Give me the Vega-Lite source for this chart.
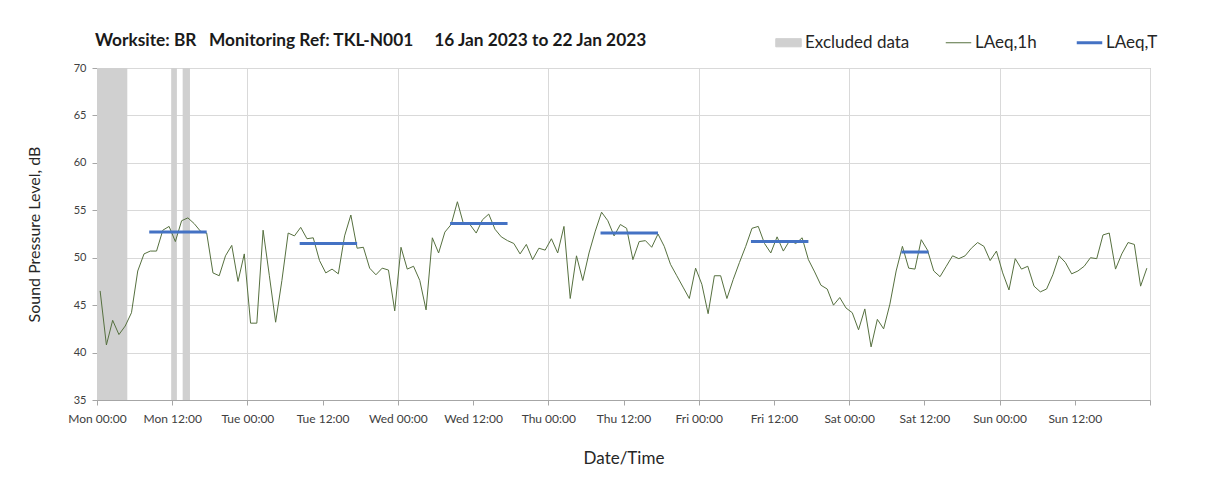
{
  "$schema": "https://vega.github.io/schema/vega-lite/v6.json",
  "width": 1053,
  "height": 332,
  "autosize": {"type": "none"},
  "padding": {"left": 97, "top": 68, "right": 58, "bottom": 93},
  "background": "white",
  "config": {
    "font": "Lato",
    "view": {"stroke": "#a6a6a6", "strokeWidth": 1}
  },
  "title": {
    "text": "Worksite: BR\u00a0\u00a0\u00a0Monitoring Ref: TKL-N001\u00a0\u00a0\u00a0\u00a0\u00a016 Jan 2023 to 22 Jan 2023",
    "anchor": "start",
    "frame": "group",
    "fontSize": 17.3,
    "fontWeight": "bold",
    "color": "#1a1a1a",
    "offset": -15,
    "dx": -2
  },
  "datasets": {
    "excluded": [
      {"start": "2023-01-16T00:00Z", "end": "2023-01-16T04:50Z"},
      {"start": "2023-01-16T11:50Z", "end": "2023-01-16T12:45Z"},
      {"start": "2023-01-16T13:40Z", "end": "2023-01-16T14:50Z"}
    ],
    "laeqT": [
      {"start": "2023-01-16T08:20Z", "end": "2023-01-16T17:30Z", "LAeq_T": 52.7},
      {"start": "2023-01-17T08:20Z", "end": "2023-01-17T17:30Z", "LAeq_T": 51.5},
      {"start": "2023-01-18T08:20Z", "end": "2023-01-18T17:30Z", "LAeq_T": 53.6},
      {"start": "2023-01-19T08:20Z", "end": "2023-01-19T17:30Z", "LAeq_T": 52.6},
      {"start": "2023-01-20T08:20Z", "end": "2023-01-20T17:30Z", "LAeq_T": 51.7},
      {"start": "2023-01-21T08:20Z", "end": "2023-01-21T12:40Z", "LAeq_T": 50.6}
    ],
    "laeq1h": [
      {"time": "2023-01-16T00:30Z", "LAeq_1h": 46.5},
      {"time": "2023-01-16T01:30Z", "LAeq_1h": 40.8},
      {"time": "2023-01-16T02:30Z", "LAeq_1h": 43.4},
      {"time": "2023-01-16T03:30Z", "LAeq_1h": 41.9},
      {"time": "2023-01-16T04:30Z", "LAeq_1h": 42.8},
      {"time": "2023-01-16T05:30Z", "LAeq_1h": 44.2},
      {"time": "2023-01-16T06:30Z", "LAeq_1h": 48.6},
      {"time": "2023-01-16T07:30Z", "LAeq_1h": 50.4},
      {"time": "2023-01-16T08:30Z", "LAeq_1h": 50.7},
      {"time": "2023-01-16T09:30Z", "LAeq_1h": 50.7},
      {"time": "2023-01-16T10:30Z", "LAeq_1h": 52.9},
      {"time": "2023-01-16T11:30Z", "LAeq_1h": 53.3},
      {"time": "2023-01-16T12:30Z", "LAeq_1h": 51.7},
      {"time": "2023-01-16T13:30Z", "LAeq_1h": 53.9},
      {"time": "2023-01-16T14:30Z", "LAeq_1h": 54.2},
      {"time": "2023-01-16T15:30Z", "LAeq_1h": 53.6},
      {"time": "2023-01-16T16:30Z", "LAeq_1h": 52.8},
      {"time": "2023-01-16T17:30Z", "LAeq_1h": 52.6},
      {"time": "2023-01-16T18:30Z", "LAeq_1h": 48.4},
      {"time": "2023-01-16T19:30Z", "LAeq_1h": 48.1},
      {"time": "2023-01-16T20:30Z", "LAeq_1h": 50.2},
      {"time": "2023-01-16T21:30Z", "LAeq_1h": 51.3},
      {"time": "2023-01-16T22:30Z", "LAeq_1h": 47.5},
      {"time": "2023-01-16T23:30Z", "LAeq_1h": 50.4},
      {"time": "2023-01-17T00:30Z", "LAeq_1h": 43.1},
      {"time": "2023-01-17T01:30Z", "LAeq_1h": 43.1},
      {"time": "2023-01-17T02:30Z", "LAeq_1h": 52.9},
      {"time": "2023-01-17T03:30Z", "LAeq_1h": 48.1},
      {"time": "2023-01-17T04:30Z", "LAeq_1h": 43.2},
      {"time": "2023-01-17T05:30Z", "LAeq_1h": 47.6},
      {"time": "2023-01-17T06:30Z", "LAeq_1h": 52.6},
      {"time": "2023-01-17T07:30Z", "LAeq_1h": 52.3},
      {"time": "2023-01-17T08:30Z", "LAeq_1h": 53.2},
      {"time": "2023-01-17T09:30Z", "LAeq_1h": 52.0},
      {"time": "2023-01-17T10:30Z", "LAeq_1h": 52.1},
      {"time": "2023-01-17T11:30Z", "LAeq_1h": 49.7},
      {"time": "2023-01-17T12:30Z", "LAeq_1h": 48.4},
      {"time": "2023-01-17T13:30Z", "LAeq_1h": 48.8},
      {"time": "2023-01-17T14:30Z", "LAeq_1h": 48.3},
      {"time": "2023-01-17T15:30Z", "LAeq_1h": 52.3},
      {"time": "2023-01-17T16:30Z", "LAeq_1h": 54.5},
      {"time": "2023-01-17T17:30Z", "LAeq_1h": 51.0},
      {"time": "2023-01-17T18:30Z", "LAeq_1h": 51.1},
      {"time": "2023-01-17T19:30Z", "LAeq_1h": 48.9},
      {"time": "2023-01-17T20:30Z", "LAeq_1h": 48.2},
      {"time": "2023-01-17T21:30Z", "LAeq_1h": 48.9},
      {"time": "2023-01-17T22:30Z", "LAeq_1h": 48.7},
      {"time": "2023-01-17T23:30Z", "LAeq_1h": 44.4},
      {"time": "2023-01-18T00:30Z", "LAeq_1h": 51.1},
      {"time": "2023-01-18T01:30Z", "LAeq_1h": 48.8},
      {"time": "2023-01-18T02:30Z", "LAeq_1h": 49.1},
      {"time": "2023-01-18T03:30Z", "LAeq_1h": 47.6},
      {"time": "2023-01-18T04:30Z", "LAeq_1h": 44.5},
      {"time": "2023-01-18T05:30Z", "LAeq_1h": 52.1},
      {"time": "2023-01-18T06:30Z", "LAeq_1h": 50.5},
      {"time": "2023-01-18T07:30Z", "LAeq_1h": 52.7},
      {"time": "2023-01-18T08:30Z", "LAeq_1h": 53.5},
      {"time": "2023-01-18T09:30Z", "LAeq_1h": 55.9},
      {"time": "2023-01-18T10:30Z", "LAeq_1h": 53.5},
      {"time": "2023-01-18T11:30Z", "LAeq_1h": 53.5},
      {"time": "2023-01-18T12:30Z", "LAeq_1h": 52.6},
      {"time": "2023-01-18T13:30Z", "LAeq_1h": 54.0},
      {"time": "2023-01-18T14:30Z", "LAeq_1h": 54.6},
      {"time": "2023-01-18T15:30Z", "LAeq_1h": 53.0},
      {"time": "2023-01-18T16:30Z", "LAeq_1h": 52.2},
      {"time": "2023-01-18T17:30Z", "LAeq_1h": 51.8},
      {"time": "2023-01-18T18:30Z", "LAeq_1h": 51.5},
      {"time": "2023-01-18T19:30Z", "LAeq_1h": 50.4},
      {"time": "2023-01-18T20:30Z", "LAeq_1h": 51.4},
      {"time": "2023-01-18T21:30Z", "LAeq_1h": 49.8},
      {"time": "2023-01-18T22:30Z", "LAeq_1h": 51.0},
      {"time": "2023-01-18T23:30Z", "LAeq_1h": 50.8},
      {"time": "2023-01-19T00:30Z", "LAeq_1h": 52.0},
      {"time": "2023-01-19T01:30Z", "LAeq_1h": 50.5},
      {"time": "2023-01-19T02:30Z", "LAeq_1h": 53.3},
      {"time": "2023-01-19T03:30Z", "LAeq_1h": 45.7},
      {"time": "2023-01-19T04:30Z", "LAeq_1h": 50.2},
      {"time": "2023-01-19T05:30Z", "LAeq_1h": 47.6},
      {"time": "2023-01-19T06:30Z", "LAeq_1h": 50.5},
      {"time": "2023-01-19T07:30Z", "LAeq_1h": 52.8},
      {"time": "2023-01-19T08:30Z", "LAeq_1h": 54.8},
      {"time": "2023-01-19T09:30Z", "LAeq_1h": 53.9},
      {"time": "2023-01-19T10:30Z", "LAeq_1h": 52.3},
      {"time": "2023-01-19T11:30Z", "LAeq_1h": 53.5},
      {"time": "2023-01-19T12:30Z", "LAeq_1h": 53.1},
      {"time": "2023-01-19T13:30Z", "LAeq_1h": 49.8},
      {"time": "2023-01-19T14:30Z", "LAeq_1h": 51.7},
      {"time": "2023-01-19T15:30Z", "LAeq_1h": 51.8},
      {"time": "2023-01-19T16:30Z", "LAeq_1h": 51.1},
      {"time": "2023-01-19T17:30Z", "LAeq_1h": 52.5},
      {"time": "2023-01-19T18:30Z", "LAeq_1h": 51.2},
      {"time": "2023-01-19T19:30Z", "LAeq_1h": 49.3},
      {"time": "2023-01-19T20:30Z", "LAeq_1h": 48.1},
      {"time": "2023-01-19T21:30Z", "LAeq_1h": 46.9},
      {"time": "2023-01-19T22:30Z", "LAeq_1h": 45.7},
      {"time": "2023-01-19T23:30Z", "LAeq_1h": 48.9},
      {"time": "2023-01-20T00:30Z", "LAeq_1h": 47.2},
      {"time": "2023-01-20T01:30Z", "LAeq_1h": 44.1},
      {"time": "2023-01-20T02:30Z", "LAeq_1h": 48.1},
      {"time": "2023-01-20T03:30Z", "LAeq_1h": 48.1},
      {"time": "2023-01-20T04:30Z", "LAeq_1h": 45.7},
      {"time": "2023-01-20T05:30Z", "LAeq_1h": 47.7},
      {"time": "2023-01-20T06:30Z", "LAeq_1h": 49.5},
      {"time": "2023-01-20T07:30Z", "LAeq_1h": 51.2},
      {"time": "2023-01-20T08:30Z", "LAeq_1h": 53.1},
      {"time": "2023-01-20T09:30Z", "LAeq_1h": 53.3},
      {"time": "2023-01-20T10:30Z", "LAeq_1h": 51.5},
      {"time": "2023-01-20T11:30Z", "LAeq_1h": 50.5},
      {"time": "2023-01-20T12:30Z", "LAeq_1h": 52.2},
      {"time": "2023-01-20T13:30Z", "LAeq_1h": 50.7},
      {"time": "2023-01-20T14:30Z", "LAeq_1h": 51.8},
      {"time": "2023-01-20T15:30Z", "LAeq_1h": 51.5},
      {"time": "2023-01-20T16:30Z", "LAeq_1h": 52.1},
      {"time": "2023-01-20T17:30Z", "LAeq_1h": 49.8},
      {"time": "2023-01-20T18:30Z", "LAeq_1h": 48.5},
      {"time": "2023-01-20T19:30Z", "LAeq_1h": 47.1},
      {"time": "2023-01-20T20:30Z", "LAeq_1h": 46.7},
      {"time": "2023-01-20T21:30Z", "LAeq_1h": 45.0},
      {"time": "2023-01-20T22:30Z", "LAeq_1h": 45.8},
      {"time": "2023-01-20T23:30Z", "LAeq_1h": 44.7},
      {"time": "2023-01-21T00:30Z", "LAeq_1h": 44.2},
      {"time": "2023-01-21T01:30Z", "LAeq_1h": 42.4},
      {"time": "2023-01-21T02:30Z", "LAeq_1h": 44.6},
      {"time": "2023-01-21T03:30Z", "LAeq_1h": 40.6},
      {"time": "2023-01-21T04:30Z", "LAeq_1h": 43.5},
      {"time": "2023-01-21T05:30Z", "LAeq_1h": 42.5},
      {"time": "2023-01-21T06:30Z", "LAeq_1h": 45.1},
      {"time": "2023-01-21T07:30Z", "LAeq_1h": 48.6},
      {"time": "2023-01-21T08:30Z", "LAeq_1h": 51.2},
      {"time": "2023-01-21T09:30Z", "LAeq_1h": 48.9},
      {"time": "2023-01-21T10:30Z", "LAeq_1h": 48.8},
      {"time": "2023-01-21T11:30Z", "LAeq_1h": 51.9},
      {"time": "2023-01-21T12:30Z", "LAeq_1h": 50.8},
      {"time": "2023-01-21T13:30Z", "LAeq_1h": 48.6},
      {"time": "2023-01-21T14:30Z", "LAeq_1h": 48.0},
      {"time": "2023-01-21T15:30Z", "LAeq_1h": 49.1},
      {"time": "2023-01-21T16:30Z", "LAeq_1h": 50.2},
      {"time": "2023-01-21T17:30Z", "LAeq_1h": 49.9},
      {"time": "2023-01-21T18:30Z", "LAeq_1h": 50.2},
      {"time": "2023-01-21T19:30Z", "LAeq_1h": 51.0},
      {"time": "2023-01-21T20:30Z", "LAeq_1h": 51.6},
      {"time": "2023-01-21T21:30Z", "LAeq_1h": 51.2},
      {"time": "2023-01-21T22:30Z", "LAeq_1h": 49.7},
      {"time": "2023-01-21T23:30Z", "LAeq_1h": 50.7},
      {"time": "2023-01-22T00:30Z", "LAeq_1h": 48.4},
      {"time": "2023-01-22T01:30Z", "LAeq_1h": 46.6},
      {"time": "2023-01-22T02:30Z", "LAeq_1h": 49.9},
      {"time": "2023-01-22T03:30Z", "LAeq_1h": 48.8},
      {"time": "2023-01-22T04:30Z", "LAeq_1h": 49.1},
      {"time": "2023-01-22T05:30Z", "LAeq_1h": 47.0},
      {"time": "2023-01-22T06:30Z", "LAeq_1h": 46.4},
      {"time": "2023-01-22T07:30Z", "LAeq_1h": 46.7},
      {"time": "2023-01-22T08:30Z", "LAeq_1h": 48.2},
      {"time": "2023-01-22T09:30Z", "LAeq_1h": 50.2},
      {"time": "2023-01-22T10:30Z", "LAeq_1h": 49.5},
      {"time": "2023-01-22T11:30Z", "LAeq_1h": 48.3},
      {"time": "2023-01-22T12:30Z", "LAeq_1h": 48.6},
      {"time": "2023-01-22T13:30Z", "LAeq_1h": 49.1},
      {"time": "2023-01-22T14:30Z", "LAeq_1h": 50.0},
      {"time": "2023-01-22T15:30Z", "LAeq_1h": 49.9},
      {"time": "2023-01-22T16:30Z", "LAeq_1h": 52.4},
      {"time": "2023-01-22T17:30Z", "LAeq_1h": 52.6},
      {"time": "2023-01-22T18:30Z", "LAeq_1h": 48.8},
      {"time": "2023-01-22T19:30Z", "LAeq_1h": 50.4},
      {"time": "2023-01-22T20:30Z", "LAeq_1h": 51.6},
      {"time": "2023-01-22T21:30Z", "LAeq_1h": 51.4},
      {"time": "2023-01-22T22:30Z", "LAeq_1h": 47.0},
      {"time": "2023-01-22T23:30Z", "LAeq_1h": 48.9}
    ]
  },
  "layer": [
    {
      "data": {"name": "excluded"},
      "mark": {"type": "rect"},
      "encoding": {
        "x": {
          "field": "start",
          "type": "temporal",
          "title": "Date/Time",
          "scale": {"type": "utc", "domain": [1673827200000, 1674432000000], "nice": false},
          "axis": {
            "values": [1673827200000, 1673870400000, 1673913600000, 1673956800000, 1674000000000, 1674043200000, 1674086400000, 1674129600000, 1674172800000, 1674216000000, 1674259200000, 1674302400000, 1674345600000, 1674388800000, 1674432000000],
            "labelExpr": "datum.value >= 1674432000000 ? '' : utcFormat(datum.value, '%a %H:%M')",
            "labelFlush": false,
            "labelOverlap": false,
            "grid": true,
            "gridColor": "#d9d9d9",
            "gridOpacity": {"condition": {"test": "utchours(datum.value) === 0", "value": 1}, "value": 0},
            "domainColor": "#a6a6a6",
            "tickColor": "#a6a6a6",
            "tickSize": 5,
            "labelPadding": 8,
            "labelFontSize": 12,
            "labelColor": "#404040",
            "titleFontSize": 17,
            "titleFontWeight": "normal",
            "titleColor": "#262626",
            "titlePadding": 26
          }
        },
        "x2": {"field": "end"},
        "y": {
          "datum": 70,
          "type": "quantitative",
          "title": "Sound Pressure Level, dB",
          "scale": {"domain": [35, 70], "nice": false, "zero": false},
          "axis": {
            "values": [35, 40, 45, 50, 55, 60, 65, 70],
            "grid": true,
            "gridColor": "#d9d9d9",
            "domainColor": "#a6a6a6",
            "tickColor": "#a6a6a6",
            "tickSize": 5,
            "labelPadding": 6,
            "labelFontSize": 11,
            "labelColor": "#404040",
            "titleFontSize": 16,
            "titleFontWeight": "normal",
            "titleColor": "#262626",
            "titlePadding": 31
          }
        },
        "y2": {"datum": 35},
        "color": {
          "datum": "Excluded data",
          "scale": {"domain": ["Excluded data", "LAeq,1h", "LAeq,T"], "range": ["#d0d0d0", "#56703f", "#4472c4"]},
          "legend": {
            "title": null,
            "orient": "none",
            "direction": "horizontal",
            "legendX": 683,
            "legendY": -34,
            "padding": 0,
            "labelFontSize": 17,
            "labelColor": "#262626",
            "labelOffset": 8,
            "columnPadding": 33,
            "symbolSize": 650,
            "encode": {
              "symbols": {
                "update": {
                  "shape": {"signal": "datum.value === 'Excluded data' ? 'M-1,-0.32H1V0.32H-1Z' : 'M-1,0H1'"},
                  "fill": {"signal": "datum.value === 'Excluded data' ? '#d0d0d0' : 'transparent'"},
                  "stroke": {"signal": "datum.value === 'Excluded data' ? 'transparent' : (datum.value === 'LAeq,T' ? '#4472c4' : '#56703f')"},
                  "strokeWidth": {"signal": "datum.value === 'LAeq,T' ? 3 : 1"},
                  "opacity": {"value": 1}
                }
              }
            }
          }
        }
      }
    },
    {
      "data": {"name": "laeq1h"},
      "mark": {"type": "line", "strokeWidth": 1},
      "encoding": {
        "x": {"field": "time", "type": "temporal", "title": "Date/Time"},
        "y": {"field": "LAeq_1h", "type": "quantitative", "title": "Sound Pressure Level, dB"},
        "color": {"datum": "LAeq,1h"}
      }
    },
    {
      "data": {"name": "laeqT"},
      "mark": {"type": "rule", "strokeWidth": 3},
      "encoding": {
        "x": {"field": "start", "type": "temporal", "title": "Date/Time"},
        "x2": {"field": "end"},
        "y": {"field": "LAeq_T", "type": "quantitative", "title": "Sound Pressure Level, dB"},
        "color": {"datum": "LAeq,T"}
      }
    }
  ]
}
